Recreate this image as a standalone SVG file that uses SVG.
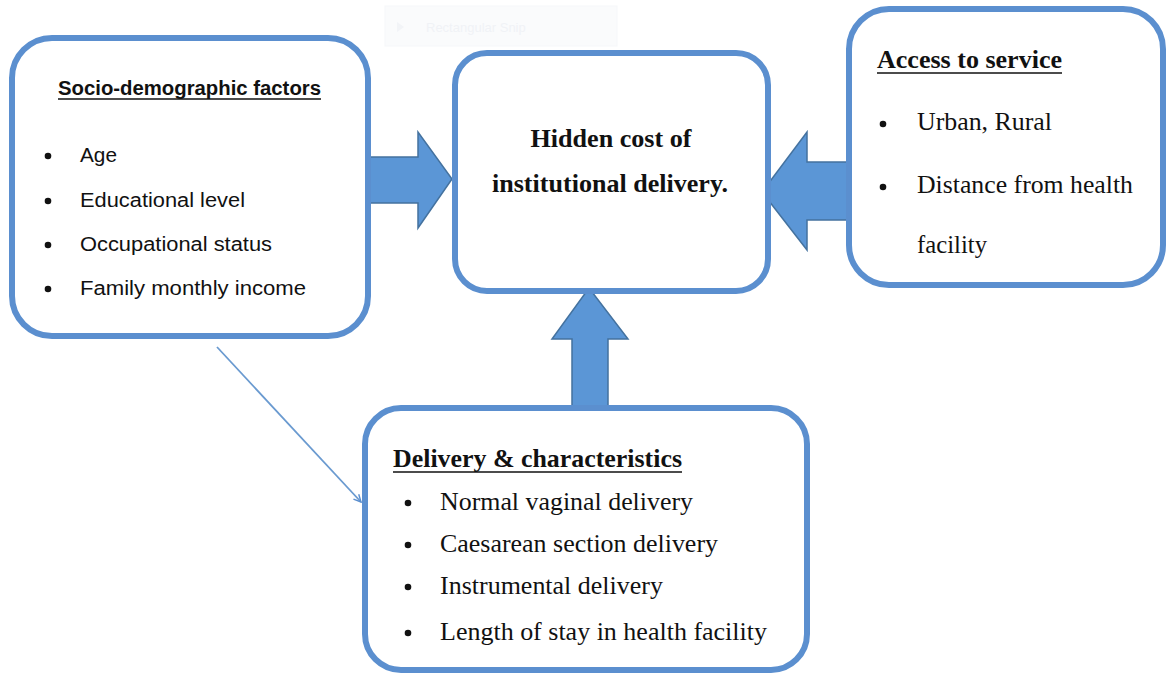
<svg xmlns="http://www.w3.org/2000/svg" width="1171" height="677" viewBox="0 0 1171 677">
<defs>
<style>
.box{fill:#fff;stroke:#5b8fcf;stroke-width:6}
.big{fill:#5b96d6;stroke:#44729f;stroke-width:1.5}
.sans{font-family:"Liberation Sans",Arial,sans-serif;font-size:20px;fill:#111}
.serif{font-family:"Liberation Serif","Times New Roman",serif;font-size:26px;fill:#111}
.b{font-weight:bold}
.ul{stroke:#111;stroke-width:1.6}
.dot{fill:#111}
</style>
<marker id="thin" viewBox="0 0 10 10" refX="9" refY="5" markerWidth="9" markerHeight="9" orient="auto" markerUnits="userSpaceOnUse">
<path d="M1,1 L9,5 L1,9" fill="none" stroke="#5b8fcf" stroke-width="1.6"/>
</marker>
</defs>
<rect width="1171" height="677" fill="#fff"/>
<g id="snip-ghost" opacity="0.5">
<rect x="385" y="6" width="232" height="40" fill="#f6f8fb" stroke="#eef1f6"/>
<path d="M397,22 L404,27 L397,32 Z" fill="#e6eaf0"/>
<text x="426" y="32" font-family="Liberation Sans, sans-serif" font-size="13" fill="#e3e7ee">Rectangular Snip</text>
</g>
<g id="connectors">
<path class="big" d="M364,157 L418,157 L418,132 L452,179 L418,228 L418,203 L364,203 Z"/>
<path class="big" d="M849,162 L807,162 L807,132 L762,192 L807,250 L807,220 L849,220 Z"/>
<path class="big" d="M572,406 L572,339 L552,339 L589,288 L628,339 L608,339 L608,406 Z"/>
<line x1="217" y1="347" x2="361" y2="502" stroke="#6a9ad0" stroke-width="1.8" marker-end="url(#thin)"/>
</g>
<g id="socio">
<rect class="box" x="12" y="38" width="356" height="298" rx="40"/>
<text class="sans b" x="58" y="95" font-size="21" textLength="263" lengthAdjust="spacingAndGlyphs">Socio-demographic factors</text>
<line class="ul" x1="58" y1="99" x2="321" y2="99"/>
<circle class="dot" cx="48" cy="156" r="3.3"/>
<circle class="dot" cx="48" cy="201" r="3.3"/>
<circle class="dot" cx="48" cy="245" r="3.3"/>
<circle class="dot" cx="48" cy="289" r="3.3"/>
<text class="sans" x="80" y="162" textLength="37" lengthAdjust="spacingAndGlyphs">Age</text>
<text class="sans" x="80" y="207" textLength="165" lengthAdjust="spacingAndGlyphs">Educational level</text>
<text class="sans" x="80" y="251" textLength="192" lengthAdjust="spacingAndGlyphs">Occupational status</text>
<text class="sans" x="80" y="295" textLength="226" lengthAdjust="spacingAndGlyphs">Family monthly income</text>
</g>
<g id="hidden-cost">
<rect class="box" x="455" y="53" width="313" height="238" rx="32"/>
<text class="serif b" x="611" y="147" text-anchor="middle" textLength="161" lengthAdjust="spacingAndGlyphs">Hidden cost of</text>
<text class="serif b" x="610" y="192" text-anchor="middle" textLength="236" lengthAdjust="spacingAndGlyphs">institutional delivery.</text>
</g>
<g id="access">
<rect class="box" x="849" y="9" width="314" height="276" rx="40"/>
<text class="serif b" x="877" y="68" textLength="185" lengthAdjust="spacingAndGlyphs">Access to service</text>
<line class="ul" x1="877" y1="73" x2="1062" y2="73"/>
<circle class="dot" cx="883" cy="124" r="3.3"/>
<circle class="dot" cx="883" cy="187" r="3.3"/>
<text class="serif" x="917" y="130" textLength="135" lengthAdjust="spacingAndGlyphs">Urban, Rural</text>
<text class="serif" x="917" y="193" textLength="216" lengthAdjust="spacingAndGlyphs">Distance from health</text>
<text class="serif" x="917" y="253" textLength="70" lengthAdjust="spacingAndGlyphs">facility</text>
</g>
<g id="delivery">
<rect class="box" x="365" y="408" width="442" height="262" rx="36"/>
<text class="serif b" x="393" y="467" textLength="289" lengthAdjust="spacingAndGlyphs">Delivery &amp; characteristics</text>
<line class="ul" x1="393" y1="472" x2="682" y2="472"/>
<circle class="dot" cx="408" cy="503" r="3.3"/>
<circle class="dot" cx="408" cy="545" r="3.3"/>
<circle class="dot" cx="408" cy="587" r="3.3"/>
<circle class="dot" cx="408" cy="633" r="3.3"/>
<text class="serif" x="440" y="510" textLength="253" lengthAdjust="spacingAndGlyphs">Normal vaginal delivery</text>
<text class="serif" x="440" y="552" textLength="278" lengthAdjust="spacingAndGlyphs">Caesarean section delivery</text>
<text class="serif" x="440" y="594" textLength="223" lengthAdjust="spacingAndGlyphs">Instrumental delivery</text>
<text class="serif" x="440" y="640" textLength="327" lengthAdjust="spacingAndGlyphs">Length of stay in health facility</text>
</g>
</svg>
